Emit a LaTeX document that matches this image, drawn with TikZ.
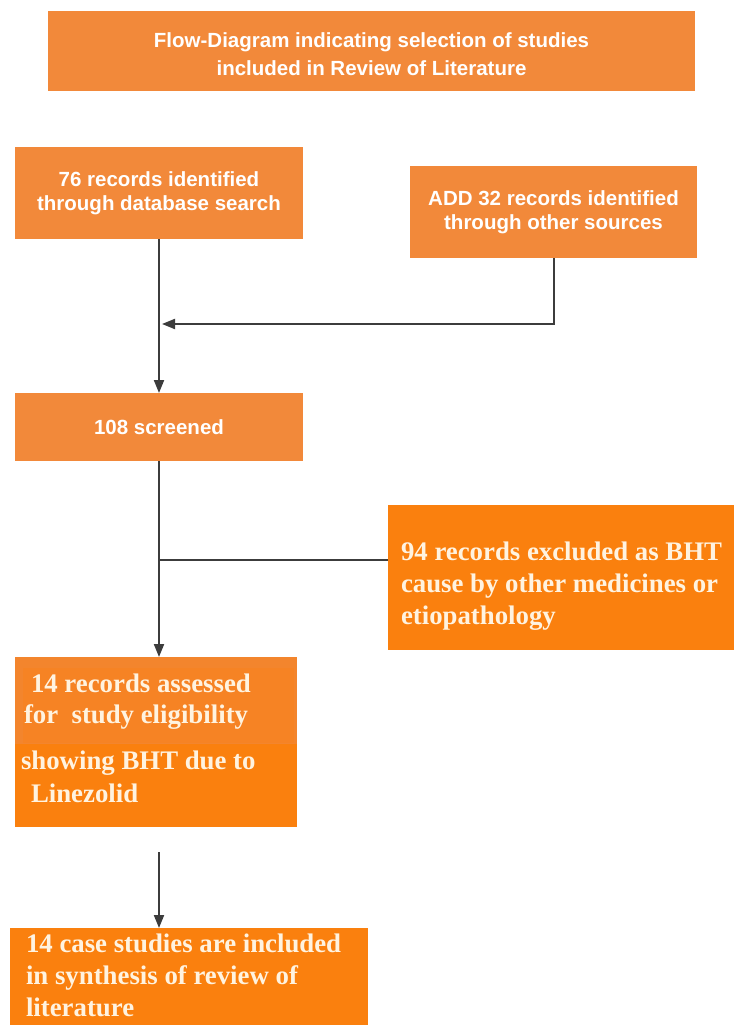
\documentclass[tikz,border=0pt]{standalone}
\usepackage{fontspec}
\setmainfont{Liberation Serif}
\newfontfamily\arialf{Liberation Sans}
\usetikzlibrary{arrows.meta}
\definecolor{topor}{RGB}{242,137,58}
\definecolor{botor}{RGB}{250,128,14}
\definecolor{midor}{RGB}{243,133,45}
\definecolor{inor}{RGB}{246,131,36}
\definecolor{linec}{RGB}{60,60,60}
\definecolor{creamtxt}{RGB}{255,243,224}
\tikzset{
  topbox/.style={fill=topor, draw=none, inner sep=0pt, outer sep=0pt, align=center,
    text=white, font=\arialf\bfseries\fontsize{20.5}{24}\selectfont},
  botbox/.style={fill=botor, draw=none, inner sep=0pt, outer sep=0pt},
  bottxt/.style={inner sep=0pt, outer sep=0pt, align=left, text=creamtxt,
    font=\bfseries\fontsize{26.8}{32}\selectfont},
  conn/.style={draw=linec, line width=2pt},
  arr/.style={conn, -{Triangle[length=13pt,width=10pt]}}
}
\begin{document}
\begin{tikzpicture}[x=1pt,y=-1pt]
\useasboundingbox (0,0) rectangle (734,1025);
\fill[white] (0,0) rectangle (734,1025);
% title
\node[topbox, minimum width=647pt, minimum height=80pt] (title) at (371.5,51) {};
\node[topbox, fill=none, font=\arialf\bfseries\fontsize{20.5}{28}\selectfont] (tt) at (371.5,54)
  {Flow-Diagram indicating selection of studies\\included in Review of Literature};
% top boxes
\node[topbox, minimum width=288pt, minimum height=92pt] (b1) at (159,193)
  {76 records identified\\through database search};
\node[topbox, minimum width=287pt, minimum height=92pt] (b2) at (553.5,212)
  {ADD 32 records identified\\through other sources};
\node[topbox, minimum width=288pt, minimum height=68pt] (b3) at (159,427)
  {108 screened};
% excluded box
\node[botbox, minimum width=346pt, minimum height=145pt] (b4) at (561,577.5) {};
\node[bottxt, anchor=west] (t4) at (401,586.5)
  {94 records excluded as BHT\\cause by other medicines or\\etiopathology};
% assessed box (two-tone)
\node[botbox, minimum width=282pt, minimum height=170pt] (b5) at (156,742) {};
\fill[midor] (15,657) rectangle (297,744);
\fill[inor] (23,668) rectangle (294,743);
\node[bottxt, anchor=north west] (t5) at (21,674)
  {\hspace*{10pt}14 records assessed\\[-1pt]\hspace*{3pt}for\ \ study eligibility\\[14pt]showing BHT due to\\[1pt]\hspace*{10pt}Linezolid};
% included box
\node[botbox, minimum width=358pt, minimum height=97pt] (b6) at (189,976.5) {};
\node[bottxt, anchor=north west] (t6) at (26,934)
  {14 case studies are included\\in synthesis of review of\\literature};
% connectors
\coordinate (j1) at (162,324);
\coordinate (j2) at (159,560);
\coordinate (j3) at (159,852);
\draw[arr] (b1.south) -- (b3.north);
\draw[arr] (b2.south) |- (j1);
\draw[arr] (b3.south) -- (b3.south |- b5.north);
\draw[conn] (b4.west |- j2) -- (j2);
\draw[arr] (j3) -- (j3 |- b6.north);
\end{tikzpicture}
\end{document}
